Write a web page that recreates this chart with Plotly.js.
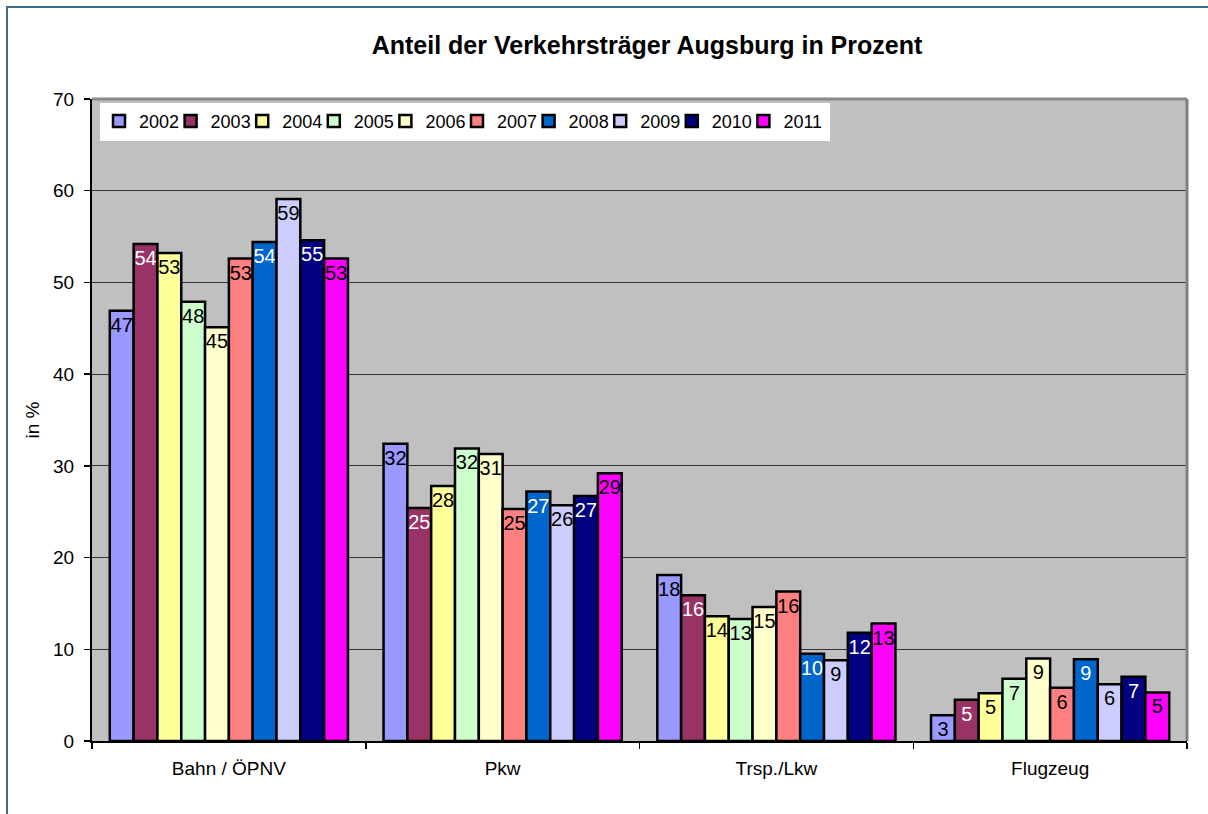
<!DOCTYPE html>
<html>
<head>
<meta charset="utf-8">
<script src="https://cdn.plot.ly/plotly-3.0.1.min.js"></script>
<style>
  html, body { margin: 0; padding: 0; background: #ffffff; }
  #wrap { position: relative; width: 1208px; height: 814px; overflow: hidden; }
  #chart { position: absolute; left: 0; top: 0; width: 1208px; height: 814px; }
  #frame { position: absolute; left: 6px; top: 6px; width: 1400px; height: 1000px;
           border-left: 2px solid #3b6e88; border-top: 2px solid #3b6e88; pointer-events: none; }
</style>
</head>
<body>
<div id="wrap">
  <div id="chart"></div>
  <div id="frame"></div>
</div>
<script>
// Categories (x axis)
const categories = ['Bahn / ÖPNV', 'Pkw', 'Trsp./Lkw', 'Flugzeug'];

// Series names
const years = ['2002', '2003', '2004', '2005', '2006', '2007', '2008', '2009', '2010', '2011'];

// Values per year, in category order
const v2002 = [46.9, 32.4, 18.1, 2.8];
const v2003 = [54.2, 25.4, 15.9, 4.5];
const v2004 = [53.2, 27.8, 13.6, 5.2];
const v2005 = [47.9, 31.9, 13.3, 6.8];
const v2006 = [45.1, 31.3, 14.6, 9.0];
const v2007 = [52.6, 25.3, 16.3, 5.8];
const v2008 = [54.4, 27.2, 9.5, 8.9];
const v2009 = [59.1, 25.7, 8.8, 6.2];
const v2010 = [54.6, 26.7, 11.8, 7.0];
const v2011 = [52.6, 29.2, 12.8, 5.3];

// Data labels as printed in the chart
const l2002 = ['47', '32', '18', '3'];
const l2003 = ['54', '25', '16', '5'];
const l2004 = ['53', '28', '14', '5'];
const l2005 = ['48', '32', '13', '7'];
const l2006 = ['45', '31', '15', '9'];
const l2007 = ['53', '25', '16', '6'];
const l2008 = ['54', '27', '10', '9'];
const l2009 = ['59', '26', '9', '6'];
const l2010 = ['55', '27', '12', '7'];
const l2011 = ['53', '29', '13', '5'];

// y axis ticks
const yTicks = [0, 10, 20, 30, 40, 50, 60, 70];

const seriesValues = [v2002, v2003, v2004, v2005, v2006, v2007, v2008, v2009, v2010, v2011];
const seriesLabels = [l2002, l2003, l2004, l2005, l2006, l2007, l2008, l2009, l2010, l2011];
const colors = ['#9999FF', '#993366', '#FFFF99', '#CCFFCC', '#FFFFCC',
                '#FF8080', '#0066CC', '#CCCCFF', '#000080', '#FF00FF'];
const labelColors = ['#000000', '#FFFFFF', '#000000', '#000000', '#000000',
                     '#000000', '#FFFFFF', '#000000', '#FFFFFF', '#000000'];

const FONT = '"Liberation Sans", Arial, sans-serif';

// plot-area geometry (px) used to place the legend entries like the original
const PLOT_L = 92, PLOT_W = 1095, PLOT_T = 99, PLOT_H = 642;
const LEG_LEFT = 99, LEG_STEP = 71.6;

const legendId = i => (i === 0 ? 'legend' : 'legend' + (i + 1));

const traces = years.map((yr, i) => ({
  type: 'bar',
  name: yr,
  x: categories,
  y: seriesValues[i],
  text: seriesLabels[i],
  textposition: 'inside',
  insidetextanchor: 'end',
  constraintext: 'none',
  textangle: 0,
  textfont: { family: FONT, size: 20, color: labelColors[i] },
  marker: { color: colors[i], line: { color: '#000000', width: 2.5 } },
  legend: legendId(i),
  hoverinfo: 'x+y+name'
}));

const layout = {
  width: 1208,
  height: 814,
  paper_bgcolor: 'rgba(0,0,0,0)',
  plot_bgcolor: '#C0C0C0',
  margin: { l: PLOT_L, r: 1208 - PLOT_L - PLOT_W, t: PLOT_T, b: 814 - PLOT_T - PLOT_H, pad: 0 },
  barmode: 'group',
  bargap: 0.13,
  bargroupgap: 0,
  font: { family: FONT, size: 19, color: '#000000' },
  title: {
    text: '<b>Anteil der Verkehrsträger Augsburg in Prozent</b>',
    font: { family: FONT, size: 25, color: '#000000' },
    xref: 'container', yref: 'container',
    x: 0.5356, xanchor: 'center',
    y: 0.945, yanchor: 'middle'
  },
  xaxis: {
    type: 'category',
    tickson: 'boundaries',
    ticks: 'outside',
    ticklen: 6,
    tickwidth: 1.5,
    tickcolor: '#000000',
    showline: true,
    linecolor: '#000000',
    linewidth: 2,
    showgrid: false,
    ticklabelstandoff: 9,
    tickfont: { family: FONT, size: 19, color: '#000000' },
    fixedrange: true
  },
  yaxis: {
    range: [0, 70],
    tickvals: yTicks,
    ticktext: yTicks.map(String),
    ticks: 'outside',
    ticklen: 6,
    tickwidth: 1.5,
    tickcolor: '#000000',
    showline: true,
    linecolor: '#000000',
    linewidth: 2,
    showgrid: true,
    gridcolor: '#333333',
    gridwidth: 1,
    zeroline: false,
    ticklabelstandoff: 6,
    tickfont: { family: FONT, size: 19, color: '#000000' },
    title: { text: 'in %', font: { family: FONT, size: 19, color: '#000000' }, standoff: 8 },
    fixedrange: true
  },
  showlegend: true,
  shapes: [
    // white legend box
    { type: 'rect', xref: 'paper', yref: 'paper',
      x0: (100 - PLOT_L) / PLOT_W, x1: (830 - PLOT_L) / PLOT_W,
      y0: 1 - (141 - PLOT_T) / PLOT_H, y1: 1 - (103 - PLOT_T) / PLOT_H,
      fillcolor: '#FFFFFF', line: { width: 0 }, layer: 'above' },
    // plot-area frame (top and right)
    { type: 'line', xref: 'paper', yref: 'paper', x0: 0, x1: 1, y0: 1, y1: 1,
      line: { color: '#8a8a8a', width: 3 }, layer: 'above' },
    { type: 'line', xref: 'paper', yref: 'paper', x0: 1, x1: 1, y0: 0, y1: 1,
      line: { color: '#808080', width: 3 }, layer: 'above' }
  ]
};

// one legend entry per year, placed side by side inside the white box
years.forEach((yr, i) => {
  layout[legendId(i)] = {
    orientation: 'h',
    xanchor: 'left',
    x: (LEG_LEFT + LEG_STEP * i - PLOT_L) / PLOT_W,
    yanchor: 'top',
    y: 0.994,
    bgcolor: 'rgba(0,0,0,0)',
    borderwidth: 0,
    itemwidth: 30,
    font: { family: FONT, size: 18, color: '#000000' }
  };
});

Plotly.newPlot('chart', traces, layout, { displayModeBar: false, staticPlot: true });
</script>
</body>
</html>
